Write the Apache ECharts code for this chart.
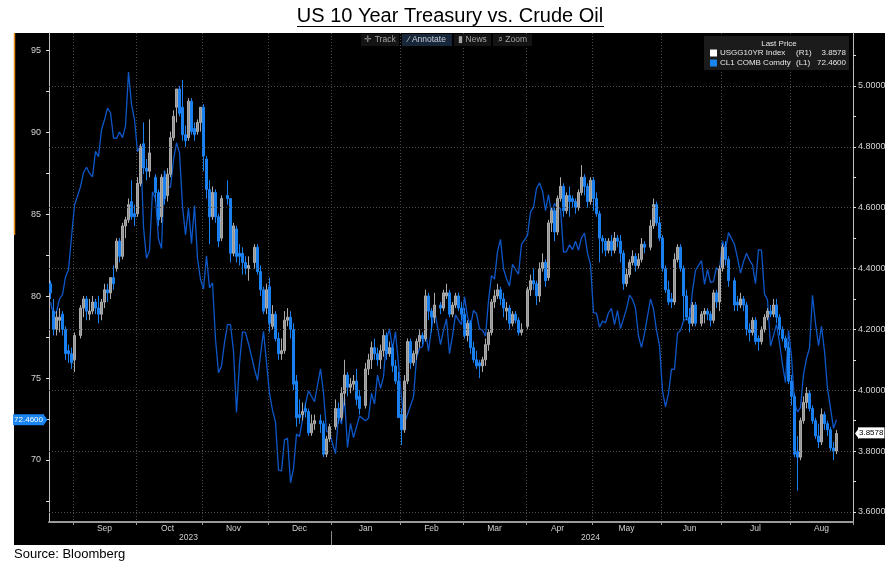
<!DOCTYPE html>
<html><head><meta charset="utf-8">
<script src="https://cdn.jsdelivr.net/npm/echarts@6/dist/echarts.min.js"></script>
<style>html,body{margin:0;padding:0;background:#fff}#c{width:895px;height:568px}</style>
</head><body><div id="c"></div>
<script>
// ---------------- data ----------------
const startDate = '2023-08-22';
const endDate = '2024-08-22';
const padSlots = 5;
const monthNames = ['Jan','Feb','Mar','Apr','May','Jun','Jul','Aug','Sep','Oct','Nov','Dec'];
const leftTickValues = [67.5,70,72.5,75,77.5,80,82.5,85,87.5,90,92.5,95];
const leftLabelValues = [70,75,80,85,90,95];
const rightTickValues = [3.6,3.7,3.8,3.9,4.0,4.1,4.2,4.3,4.4,4.5,4.6,4.7,4.8,4.9,5.0,5.1];
const rightLabelValues = [3.6,3.8,4.0,4.2,4.4,4.6,4.8,5.0];
const lastYield = 3.8578;
const lastOil = 72.46;

// USGG10YR daily [open, high, low, close], one per weekday; null = no session
const ust_2023_08 = [[4.35,4.36,4.30,4.32],[4.26,4.30,4.18,4.20],[4.20,4.26,4.18,4.24],[4.23,4.27,4.19,4.24],[4.25,4.26,4.18,4.20],[4.20,4.21,4.10,4.12],[4.13,4.15,4.09,4.12],[4.12,4.14,4.07,4.09]];
const ust_2023_09 = [[4.10,4.19,4.06,4.18],null,[4.18,4.28,4.17,4.27],[4.27,4.31,4.24,4.30],[4.30,4.31,4.23,4.26],[4.25,4.30,4.23,4.26],[4.26,4.31,4.25,4.29],[4.29,4.30,4.25,4.27],[4.27,4.31,4.22,4.25],[4.25,4.30,4.23,4.29],[4.29,4.35,4.27,4.33],[4.33,4.35,4.29,4.32],[4.32,4.37,4.30,4.37],[4.37,4.41,4.33,4.35],[4.40,4.50,4.39,4.49],[4.49,4.50,4.42,4.44],[4.44,4.55,4.43,4.54],[4.54,4.57,4.50,4.56],[4.56,4.63,4.55,4.61],[4.62,4.69,4.56,4.57],[4.58,4.61,4.54,4.57]];
const ust_2023_10 = [[4.58,4.70,4.57,4.68],[4.68,4.81,4.67,4.80],[4.81,4.88,4.71,4.73],[4.73,4.76,4.69,4.72],[4.72,4.89,4.70,4.78],null,[4.70,4.71,4.62,4.65],[4.65,4.66,4.54,4.56],[4.57,4.71,4.55,4.70],[4.70,4.72,4.61,4.63],[4.64,4.73,4.62,4.71],[4.71,4.85,4.70,4.83],[4.83,4.92,4.82,4.90],[4.93,4.99,4.88,4.99],[4.99,5.00,4.90,4.91],[4.93,5.02,4.82,4.84],[4.84,4.87,4.80,4.82],[4.83,4.96,4.82,4.95],[4.95,4.96,4.84,4.85],[4.86,4.88,4.82,4.84],[4.85,4.89,4.84,4.88],[4.88,4.93,4.85,4.93]];
const ust_2023_11 = [[4.93,4.94,4.72,4.77],[4.76,4.77,4.63,4.66],[4.66,4.69,4.48,4.57],[4.57,4.67,4.56,4.65],[4.65,4.66,4.55,4.57],[4.57,4.58,4.47,4.49],[4.50,4.64,4.49,4.63],null,[4.64,4.69,4.61,4.63],[4.63,4.63,4.42,4.45],[4.45,4.55,4.44,4.54],[4.53,4.54,4.42,4.44],[4.45,4.48,4.41,4.44],[4.45,4.47,4.38,4.42],[4.42,4.44,4.38,4.40],[4.40,4.44,4.36,4.41],null,[4.42,4.48,4.40,4.47],[4.47,4.48,4.38,4.39],[4.39,4.41,4.31,4.33],[4.33,4.34,4.25,4.26],[4.27,4.35,4.25,4.33]];
const ust_2023_12 = [[4.34,4.37,4.19,4.22],[4.21,4.28,4.20,4.25],[4.25,4.26,4.16,4.17],[4.17,4.19,4.10,4.12],[4.12,4.17,4.10,4.13],[4.13,4.26,4.12,4.23],[4.23,4.27,4.21,4.24],[4.24,4.26,4.17,4.20],[4.20,4.22,4.00,4.02],[4.03,4.05,3.88,3.91],[3.92,3.97,3.89,3.91],[3.92,3.96,3.90,3.93],[3.94,3.96,3.91,3.93],[3.93,3.94,3.85,3.86],[3.86,3.92,3.85,3.89],[3.89,3.92,3.87,3.90],null,[3.90,3.92,3.86,3.89],[3.89,3.90,3.78,3.79],[3.79,3.85,3.78,3.84],[3.84,3.89,3.83,3.88]];
const ust_2024_01 = [null,[3.88,3.97,3.87,3.94],[3.94,3.96,3.89,3.91],[3.91,4.01,3.90,3.99],[3.99,4.10,3.95,4.05],[4.05,4.06,3.98,4.01],[4.01,4.04,3.99,4.02],[4.02,4.05,4.00,4.03],[4.03,4.07,3.95,3.97],[3.98,4.00,3.92,3.94],null,[3.95,4.09,3.94,4.07],[4.07,4.12,4.05,4.10],[4.10,4.16,4.07,4.14],[4.14,4.17,4.10,4.12],[4.12,4.14,4.08,4.10],[4.10,4.15,4.07,4.13],[4.13,4.20,4.11,4.18],[4.18,4.19,4.10,4.12],[4.12,4.16,4.11,4.14],[4.14,4.15,4.06,4.08],[4.08,4.10,4.02,4.03],[4.03,4.06,3.91,3.91]];
const ust_2024_02 = [[3.92,3.94,3.82,3.87],[3.87,4.05,3.86,4.03],[4.03,4.17,4.02,4.16],[4.16,4.17,4.07,4.09],[4.09,4.13,4.08,4.12],[4.12,4.17,4.10,4.16],[4.16,4.20,4.14,4.18],[4.18,4.19,4.15,4.17],[4.17,4.33,4.16,4.31],[4.31,4.32,4.23,4.26],[4.26,4.27,4.19,4.24],[4.24,4.32,4.22,4.28],null,[4.28,4.29,4.25,4.27],[4.27,4.33,4.26,4.32],[4.31,4.35,4.30,4.32],[4.32,4.33,4.24,4.25],[4.25,4.29,4.24,4.28],[4.28,4.32,4.27,4.31],[4.31,4.32,4.26,4.27],[4.27,4.29,4.23,4.25]];
const ust_2024_03 = [[4.25,4.27,4.17,4.18],[4.18,4.23,4.16,4.22],[4.22,4.23,4.12,4.14],[4.14,4.16,4.09,4.10],[4.10,4.13,4.07,4.08],[4.09,4.10,4.04,4.08],[4.08,4.11,4.06,4.10],[4.10,4.17,4.08,4.15],[4.15,4.20,4.13,4.19],[4.19,4.30,4.18,4.29],[4.29,4.33,4.27,4.31],[4.31,4.35,4.30,4.33],[4.33,4.34,4.28,4.30],[4.30,4.32,4.24,4.27],[4.26,4.29,4.23,4.27],[4.27,4.28,4.20,4.22],[4.22,4.26,4.21,4.25],[4.25,4.26,4.22,4.23],[4.23,4.24,4.18,4.19],[4.19,4.22,4.18,4.20],null];
const ust_2024_04 = [[4.21,4.34,4.20,4.33],[4.33,4.38,4.31,4.36],[4.36,4.40,4.33,4.35],[4.35,4.36,4.28,4.31],[4.31,4.42,4.29,4.40],[4.40,4.45,4.39,4.42],[4.42,4.43,4.34,4.36],[4.37,4.56,4.36,4.55],[4.55,4.60,4.52,4.59],[4.59,4.60,4.49,4.52],[4.52,4.64,4.51,4.63],[4.63,4.70,4.62,4.67],[4.67,4.68,4.57,4.59],[4.59,4.65,4.58,4.64],[4.64,4.67,4.57,4.62],[4.63,4.64,4.60,4.62],[4.62,4.63,4.58,4.60],[4.60,4.66,4.59,4.65],[4.65,4.74,4.64,4.70],[4.70,4.71,4.64,4.67],[4.67,4.68,4.60,4.62],[4.62,4.70,4.61,4.69]];
const ust_2024_05 = [[4.69,4.70,4.59,4.63],[4.63,4.65,4.57,4.58],[4.58,4.59,4.42,4.50],[4.50,4.51,4.45,4.49],[4.49,4.50,4.44,4.46],[4.46,4.50,4.45,4.49],[4.49,4.51,4.44,4.46],[4.46,4.52,4.45,4.50],[4.50,4.51,4.47,4.49],[4.49,4.51,4.42,4.45],[4.45,4.46,4.33,4.35],[4.35,4.40,4.34,4.38],[4.38,4.43,4.37,4.42],[4.42,4.46,4.41,4.44],[4.44,4.45,4.39,4.41],[4.41,4.45,4.40,4.43],[4.43,4.50,4.42,4.48],[4.48,4.49,4.45,4.47],null,[4.47,4.56,4.46,4.54],[4.54,4.63,4.53,4.61],[4.61,4.62,4.54,4.55],[4.55,4.57,4.49,4.50]];
const ust_2024_06 = [[4.50,4.51,4.39,4.40],[4.40,4.41,4.32,4.33],[4.33,4.36,4.28,4.29],[4.30,4.32,4.27,4.29],[4.29,4.45,4.28,4.43],[4.43,4.48,4.42,4.47],[4.47,4.48,4.39,4.40],[4.40,4.41,4.23,4.31],[4.31,4.33,4.23,4.24],[4.24,4.27,4.19,4.22],[4.22,4.29,4.21,4.28],[4.28,4.29,4.21,4.22],null,[4.22,4.26,4.21,4.25],[4.25,4.27,4.22,4.26],[4.26,4.27,4.23,4.25],[4.25,4.26,4.21,4.23],[4.23,4.33,4.22,4.32],[4.32,4.33,4.27,4.29],[4.29,4.41,4.26,4.40]];
const ust_2024_07 = [[4.40,4.48,4.39,4.47],[4.47,4.49,4.41,4.43],[4.43,4.44,4.34,4.36],null,[4.36,4.37,4.26,4.28],[4.29,4.31,4.26,4.28],[4.28,4.32,4.27,4.30],[4.30,4.31,4.26,4.28],[4.28,4.29,4.18,4.20],[4.20,4.22,4.16,4.19],[4.19,4.24,4.18,4.23],[4.23,4.24,4.15,4.16],[4.17,4.18,4.13,4.16],[4.16,4.21,4.15,4.20],[4.20,4.25,4.19,4.24],[4.24,4.27,4.23,4.26],[4.26,4.28,4.24,4.25],[4.25,4.30,4.24,4.28],[4.28,4.30,4.22,4.24],[4.24,4.25,4.18,4.20],[4.20,4.21,4.16,4.17],[4.17,4.18,4.13,4.14],[4.14,4.16,4.02,4.03]];
const ust_2024_08 = [[4.03,4.05,3.95,3.98],[3.98,3.99,3.78,3.79],[3.80,3.85,3.67,3.78],[3.78,3.91,3.77,3.90],[3.90,3.98,3.89,3.96],[3.96,4.01,3.94,3.99],[3.99,4.00,3.93,3.94],[3.94,3.95,3.89,3.90],[3.90,3.91,3.84,3.85],[3.85,3.89,3.81,3.83],[3.83,3.94,3.82,3.92],[3.92,3.93,3.87,3.89],[3.89,3.90,3.85,3.87],[3.87,3.88,3.80,3.81],[3.81,3.83,3.77,3.80],[3.80,3.87,3.79,3.8578]];

// CL1 COMB Comdty daily close, one per weekday; null = no session
const oil_2023_08 = [79.64,78.89,79.05,79.83,80.10,81.16,81.63,83.63];
const oil_2023_09 = [85.55,null,86.69,87.54,87.87,87.51,87.29,88.84,88.52,90.16,90.77,91.48,91.20,89.66,89.63,90.03,89.68,90.39,93.68,91.71,90.79];
const oil_2023_10 = [88.82,89.23,84.22,82.31,82.79,86.38,85.97,83.49,82.91,87.69,86.66,86.66,88.32,89.37,88.75,85.49,83.74,85.39,83.21,85.54,82.31,81.02];
const oil_2023_11 = [80.44,82.46,80.51,80.82,77.37,75.33,75.74,77.17,78.26,78.26,76.66,72.90,75.89,77.83,77.77,77.10,null,75.54,74.86,76.41,77.86,75.96];
const oil_2023_12 = [74.07,73.04,72.32,69.38,69.34,71.23,71.32,68.61,69.47,71.58,71.43,72.47,73.44,74.22,73.89,73.56,null,75.57,74.11,71.77,71.65];
const oil_2024_01 = [null,70.38,72.70,72.19,73.81,70.77,72.24,71.37,72.02,72.68,null,72.40,72.56,74.08,73.41,75.19,74.37,75.09,77.36,78.01,76.78,77.82,75.85];
const oil_2024_02 = [73.82,72.28,72.78,73.31,73.86,76.22,76.84,76.92,77.87,76.64,78.03,79.19,null,77.04,77.91,78.61,76.49,77.58,78.87,78.54,78.26];
const oil_2024_03 = [79.97,78.74,78.15,79.13,78.93,78.01,77.93,77.56,79.72,81.26,81.04,82.72,83.47,81.68,81.07,80.63,81.95,81.62,81.35,83.17,null];
const oil_2024_04 = [83.71,85.15,85.43,86.59,86.91,86.43,85.23,86.21,85.02,85.66,85.41,85.36,82.69,82.73,83.14,82.85,83.36,82.81,83.57,83.85,82.63,81.93];
const oil_2024_05 = [79.00,78.95,78.11,78.48,78.38,78.99,79.26,78.26,79.12,78.02,78.63,79.23,80.06,79.80,79.26,77.57,76.87,77.72,null,79.83,79.23,77.91,76.99];
const oil_2024_06 = [74.22,73.25,74.07,75.55,75.53,77.74,77.90,78.50,78.62,78.45,80.33,81.57,null,82.17,80.73,81.63,80.83,80.90,81.74,81.54];
const oil_2024_07 = [83.38,82.81,83.88,null,83.16,82.33,81.41,82.10,82.62,82.21,81.91,80.76,82.85,82.82,80.13,79.78,76.96,77.59,78.28,77.16,75.81,74.73,77.91];
const oil_2024_08 = [76.31,73.52,72.94,73.20,75.23,76.19,76.84,80.06,78.35,76.98,78.16,76.65,74.37,73.17,71.93,72.46];

// ---------------- build ----------------
const ust = [].concat(ust_2023_08, ust_2023_09, ust_2023_10, ust_2023_11, ust_2023_12, ust_2024_01, ust_2024_02, ust_2024_03, ust_2024_04, ust_2024_05, ust_2024_06, ust_2024_07, ust_2024_08);
const oil = [].concat(oil_2023_08, oil_2023_09, oil_2023_10, oil_2023_11, oil_2023_12, oil_2024_01, oil_2024_02, oil_2024_03, oil_2024_04, oil_2024_05, oil_2024_06, oil_2024_07, oil_2024_08);

const dates = [];
{
  let t = Date.parse(startDate + 'T00:00:00Z');
  const tEnd = Date.parse(endDate + 'T00:00:00Z');
  while (t <= tEnd) {
    const wd = new Date(t).getUTCDay();
    if (wd > 0 && wd < 6) dates.push(new Date(t).toISOString().slice(0, 10));
    t += 86400000;
  }
}
if (dates.length !== ust.length || dates.length !== oil.length) console.warn('length mismatch', dates.length, ust.length, oil.length);
const categories = dates.slice();
for (let i = 0; i < padSlots; i++) categories.push('pad' + i);
const monthKey = categories.map((c, i) => i < dates.length ? c.slice(0, 7) : dates[dates.length - 1].slice(0, 7));
const yearKey = monthKey.map(k => k.slice(0, 4));

const monthStart = new Set();
const monthLabel = {};
const yearLabel = {};
let janIdx = -1;
(function () {
  let s = 0;
  for (let i = 1; i <= monthKey.length; i++) {
    if (i === monthKey.length || monthKey[i] !== monthKey[s]) {
      if (i - s >= 10) monthLabel[Math.floor((s + i - 1) / 2)] = monthNames[parseInt(monthKey[s].slice(5, 7), 10) - 1];
      if (i < monthKey.length) monthStart.add(i);
      s = i;
    }
  }
  s = 0;
  for (let i = 1; i <= yearKey.length; i++) {
    if (i === yearKey.length || yearKey[i] !== yearKey[s]) {
      yearLabel[Math.floor((s + i - 1) / 2)] = yearKey[s];
      if (i < yearKey.length) janIdx = i;
      s = i;
    }
  }
})();

const candles = ust.map(r => r ? [r[0], r[3], r[2], r[1]] : ['-', '-', '-', '-']);

const FONT = 'Liberation Sans';
const chart = echarts.init(document.getElementById('c'), null, {renderer: 'canvas'});

const option = {
  backgroundColor: '#ffffff',
  animation: false,
  grid: {left: 49, right: 42, top: 33, bottom: 46, containLabel: false},
  legend: {
    orient: 'vertical', right: 46, top: 36, selectedMode: false,
    itemWidth: 7, itemHeight: 7, itemGap: 2,
    padding: [13, 3, 3, 6], backgroundColor: '#1b1b1b',
    data: [
      {name: 'USGG10YR Index', icon: 'rect', itemStyle: {color: '#ffffff', borderWidth: 0}},
      {name: 'CL1 COMB Comdty', icon: 'rect', itemStyle: {color: '#1a84f0', borderWidth: 0}}
    ],
    formatter: function (name) {
      if (name === 'USGG10YR Index') return '{a|USGG10YR Index}{b|(R1)}{c|' + lastYield.toFixed(4) + '}';
      return '{a|CL1 COMB Comdty}{b|(L1)}{c|' + lastOil.toFixed(4) + '}';
    },
    textStyle: {
      color: '#e6e6e6', fontSize: 8, fontFamily: FONT, padding: [0, 0, 0, -2],
      rich: {
        a: {width: 76, fontSize: 8, fontFamily: FONT, color: '#e6e6e6'},
        b: {width: 22, fontSize: 8, fontFamily: FONT, color: '#e6e6e6'},
        c: {width: 28, align: 'right', fontSize: 8, fontFamily: FONT, color: '#e6e6e6'}
      }
    }
  },
  xAxis: [
    {
      type: 'category', data: categories, boundaryGap: true, gridIndex: 0, position: 'bottom',
      axisLine: {show: true, lineStyle: {color: '#9a9a9a', width: 2}},
      axisTick: {show: true, interval: (i) => monthStart.has(i), length: 3, lineStyle: {color: '#9a9a9a'}},
      axisLabel: {interval: (i) => monthLabel[i] !== undefined, formatter: (v, i) => monthLabel[i] || '', color: '#d0d0d0', fontSize: 8.5, fontFamily: FONT, margin: 2},
      splitLine: {show: true, interval: (i) => monthStart.has(i), lineStyle: {color: '#4a4a4a', type: [1, 2], width: 1}}
    },
    {
      type: 'category', data: categories, boundaryGap: true, gridIndex: 0, position: 'bottom', offset: 9,
      axisLine: {show: false},
      axisTick: {show: false},
      axisLabel: {interval: (i) => yearLabel[i] !== undefined, formatter: (v, i) => yearLabel[i] || '', color: '#d0d0d0', fontSize: 8.5, fontFamily: FONT, margin: 2},
      splitLine: {show: false}
    }
  ],
  yAxis: [
    {
      type: 'value', position: 'left', min: 66.215, max: 96.07, gridIndex: 0,
      axisLine: {show: true, lineStyle: {color: '#bdbdbd', width: 1}},
      axisTick: {show: true, customValues: leftTickValues, length: 3, lineStyle: {color: '#e0e0e0'}},
      axisLabel: {customValues: leftLabelValues, color: '#d4d4d4', fontSize: 9, fontFamily: FONT, margin: 8},
      splitLine: {show: false}
    },
    {
      type: 'value', position: 'right', min: 3.567, max: 5.174, gridIndex: 0,
      axisLine: {show: true, lineStyle: {color: '#bdbdbd', width: 1}},
      axisTick: {show: true, customValues: rightTickValues, length: 3, lineStyle: {color: '#e0e0e0'}},
      axisLabel: {customValues: rightLabelValues, formatter: (v) => v.toFixed(4), color: '#d4d4d4', fontSize: 9, fontFamily: FONT, margin: 5},
      splitLine: {show: false}
    }
  ],
  series: [
    {
      name: 'gridlines', type: 'line', xAxisIndex: 0, yAxisIndex: 1, data: [], z: 0, silent: true,
      markLine: {
        silent: true, symbol: ['none', 'none'], animation: false, label: {show: false},
        lineStyle: {color: '#4a4a4a', type: [1, 2], width: 1},
        data: rightLabelValues.map(v => ({yAxis: v}))
      }
    },
    {
      name: 'CL1 COMB Comdty', type: 'line', xAxisIndex: 0, yAxisIndex: 0, data: oil,
      symbol: 'none', showSymbol: false, connectNulls: true, z: 2,
      lineStyle: {color: '#0d57c9', width: 1.3}, itemStyle: {color: '#1a84f0'},
      markLine: {
        silent: true, symbol: ['none', 'none'], animation: false,
        data: [{yAxis: lastOil}],
        lineStyle: {color: 'rgba(0,0,0,0)', width: 1},
        label: {show: true, position: 'start', formatter: lastOil.toFixed(4), distance: 5,
          backgroundColor: '#1a84f0', color: '#ffffff', fontSize: 8, fontFamily: FONT, padding: [2, 1, 1, 1]}
      }
    },
    {
      name: 'USGG10YR Index', type: 'candlestick', xAxisIndex: 0, yAxisIndex: 1, data: candles,
      barWidth: 2, z: 3,
      itemStyle: {color: '#949494', color0: '#1a80f0', borderColor: '#ababab', borderColor0: '#1a80f0', borderWidth: 1},
      markLine: {
        silent: true, symbol: ['none', 'none'], animation: false,
        data: [{yAxis: lastYield}],
        lineStyle: {color: 'rgba(0,0,0,0)', width: 1},
        label: {show: true, position: 'end', formatter: lastYield.toFixed(4), distance: 5,
          backgroundColor: '#ffffff', color: '#000000', fontSize: 8, fontFamily: FONT, padding: [2, 1, 1, 1]}
      }
    }
  ]
};
chart.setOption(option);

// decorations (positions of the year separator and badge arrows taken from the axes)
const bandW = chart.convertToPixel({xAxisIndex: 0}, 1) - chart.convertToPixel({xAxisIndex: 0}, 0);
const janX = Math.round(chart.convertToPixel({xAxisIndex: 0}, janIdx) - bandW / 2) + 0.5;
const oilY = chart.convertToPixel({yAxisIndex: 0}, lastOil);
const ustY = chart.convertToPixel({yAxisIndex: 1}, lastYield);

const toolItems = [
  {x: 361, w: 38, text: '\u271B Track', bg: '#141414', color: '#a4a4a4'},
  {x: 402, w: 50, text: '\u2215 Annotate', bg: '#172739', color: '#c6ced8'},
  {x: 454, w: 37, text: '\u25AE News', bg: '#141414', color: '#a4a4a4'},
  {x: 493, w: 39, text: '\u2315 Zoom', bg: '#141414', color: '#a4a4a4'}
];
const toolGraphics = [];
toolItems.forEach(t => {
  toolGraphics.push({type: 'rect', z: 5, silent: true, shape: {x: t.x, y: 34, width: t.w, height: 12}, style: {fill: t.bg}});
  toolGraphics.push({type: 'text', z: 6, silent: true, style: {text: t.text, x: t.x + t.w / 2, y: 40, textAlign: 'center', textVerticalAlign: 'middle', fill: t.color, font: '8.5px ' + FONT}});
});

chart.setOption({
  graphic: {
    elements: [
      {type: 'rect', z: -10, silent: true, shape: {x: 14, y: 33, width: 871, height: 512}, style: {fill: '#000000'}},
      {type: 'line', z: 1, silent: true, shape: {x1: 14.5, y1: 33, x2: 14.5, y2: 235}, style: {stroke: '#ef8a14', lineWidth: 1.5}},
      {type: 'line', z: 1, silent: true, shape: {x1: janX, y1: 531, x2: janX, y2: 545}, style: {stroke: '#8a8a8a', lineWidth: 1}},
      {type: 'polygon', z: 50, silent: true, shape: {points: [[43.5, oilY - 5.5], [47.5, oilY], [43.5, oilY + 5.5]]}, style: {fill: '#1a84f0'}},
      {type: 'polygon', z: 50, silent: true, shape: {points: [[859, ustY - 5.5], [855, ustY], [859, ustY + 5.5]]}, style: {fill: '#ffffff'}},
      {type: 'text', z: 1, silent: true, style: {text: 'US 10 Year Treasury vs. Crude Oil', x: 450, y: 16, textAlign: 'center', textVerticalAlign: 'middle', fill: '#000000', font: '20px ' + FONT}},
      {type: 'line', z: 1, silent: true, shape: {x1: 297, y1: 26.5, x2: 604, y2: 26.5}, style: {stroke: '#000000', lineWidth: 1}},
      {type: 'text', z: 1, silent: true, style: {text: 'Source: Bloomberg', x: 14, y: 554, textAlign: 'left', textVerticalAlign: 'middle', fill: '#000000', font: '13px ' + FONT}},
      {type: 'text', z: 20, silent: true, style: {text: 'Last Price', x: 779, y: 44, textAlign: 'center', textVerticalAlign: 'middle', fill: '#e6e6e6', font: '8px ' + FONT}}
    ].concat(toolGraphics)
  }
});
</script>
</body></html>
